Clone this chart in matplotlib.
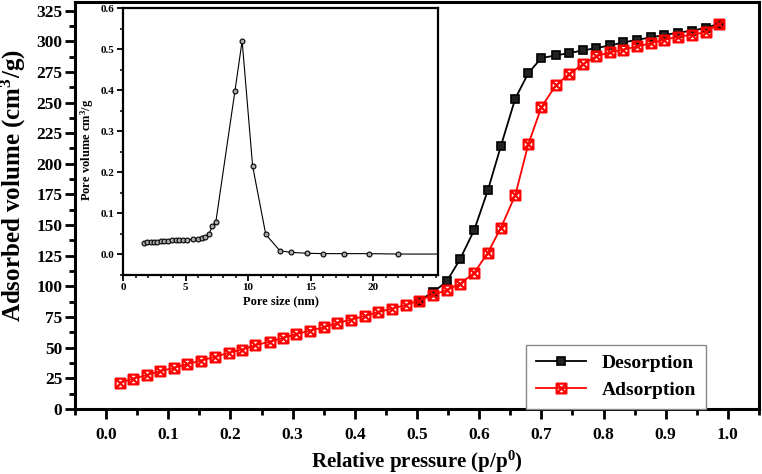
import matplotlib
matplotlib.use('Agg')
import matplotlib.pyplot as plt
from matplotlib.path import Path
import numpy as np

plt.rcParams['font.family'] = ['Liberation Serif', 'DejaVu Serif']
plt.rcParams['font.weight'] = 'bold'
plt.rcParams['mathtext.fontset'] = 'custom'
plt.rcParams['mathtext.rm'] = 'Liberation Serif:bold'
plt.rcParams['mathtext.bf'] = 'Liberation Serif:bold'
plt.rcParams['mathtext.it'] = 'Liberation Serif:bold'
plt.rcParams['mathtext.default'] = 'bf'

# adsorption branch (relative pressure, volume cm3/g)
ads_p = [0.022, 0.044, 0.065, 0.087, 0.109, 0.130, 0.153, 0.175, 0.197, 0.219,
         0.240, 0.263, 0.284, 0.306, 0.328, 0.350, 0.372, 0.394, 0.416, 0.438,
         0.460, 0.482, 0.503, 0.525, 0.548, 0.569, 0.592, 0.614, 0.635, 0.658,
         0.679, 0.700, 0.723, 0.745, 0.767, 0.788, 0.811, 0.832, 0.854, 0.876,
         0.898, 0.920, 0.942, 0.964, 0.986]
ads_v = [21.5, 24.8, 27.6, 30.8, 33.6, 36.6, 39.5, 42.6, 45.8, 48.5,
         52.1, 54.8, 57.9, 61.1, 63.9, 66.6, 70.2, 72.9, 75.9, 79.1,
         81.9, 84.9, 88.4, 92.8, 97.2, 102.0, 111.0, 127.5, 147.9, 174.4,
         215.9, 246.2, 263.9, 273.4, 281.3, 287.6, 291.2, 293.1, 295.8, 298.3,
         301.3, 303.5, 305.4, 307.3, 314.4]

# desorption branch
des_p = [0.503, 0.526, 0.548, 0.569, 0.592, 0.614, 0.635, 0.658, 0.679, 0.700,
         0.723, 0.745, 0.767, 0.788, 0.811, 0.832, 0.854, 0.876, 0.898, 0.920,
         0.942, 0.964, 0.986]
des_v = [88.4, 95.2, 104.2, 122.0, 146.0, 178.5, 214.7, 253.2, 274.0, 286.3,
         288.4, 290.4, 292.5, 294.4, 296.6, 299.0, 301.2, 303.1, 305.1, 307.0,
         308.6, 310.8, 314.4]

# pore size distribution (inset)
pore_d = [1.7, 1.95, 2.2, 2.45, 2.7, 3.0, 3.3, 3.6, 3.9, 4.2, 4.5, 4.8, 5.1,
          5.6, 6.0, 6.3, 6.55, 6.9, 7.15, 7.42, 8.95, 9.53, 10.37, 11.42,
          12.55, 13.47, 14.68, 16.03, 17.68, 19.71, 22.0, 26.0]
pore_v = [0.029, 0.030, 0.030, 0.031, 0.031, 0.032, 0.032, 0.033, 0.034,
          0.034, 0.035, 0.036, 0.036, 0.037, 0.038, 0.040, 0.043, 0.051,
          0.070, 0.078, 0.397, 0.520, 0.215, 0.049, 0.009, 0.005, 0.003,
          0.002, 0.002, 0.002, 0.001, 0.001]

# square with a cross inside
box_x = Path([(-1, -1), (1, -1), (1, 1), (-1, 1), (-1, -1), (1, 1), (-1, 1), (1, -1)],
             [Path.MOVETO, Path.LINETO, Path.LINETO, Path.LINETO, Path.LINETO,
              Path.LINETO, Path.MOVETO, Path.LINETO])

fig = plt.figure(figsize=(7.62, 4.74), dpi=100)
ax = fig.add_axes([75/762, 1-409/474, 684/762, 407/474])

ax.plot(des_p, des_v, color='black', lw=1.3, marker='s', ms=6,
        mfc='#222222', mec='black', mew=1.2, label='Desorption')
ax.plot(ads_p, ads_v, color='red', lw=1.3, marker=box_x, ms=7,
        mfc='none', mec='red', mew=1.6, label='Adsorption')

ax.set_xlim(-0.05, 1.05)
ax.set_ylim(0, 332)
ax.set_xticks(np.arange(0, 1.01, 0.1))
ax.set_xticks(np.arange(-0.05, 1.06, 0.05), minor=True)
ax.set_yticks(np.arange(0, 326, 25))
ax.set_yticks(np.arange(0, 332, 12.5), minor=True)
ax.xaxis.set_major_formatter(plt.FuncFormatter(lambda v, p: '{:.1f}'.format(v)))
ax.tick_params(which='major', direction='out', length=7, width=2, labelsize=12.5, pad=6)
ax.tick_params(which='minor', direction='out', length=4, width=2)
ax.tick_params(axis='y', pad=2)
for s in ax.spines.values():
    s.set_linewidth(2.2)
ax.set_xlabel('Relative pressure (p/p$^{0}$)', fontsize=15, fontweight='bold', labelpad=4)
ax.set_ylabel('Adsorbed volume (cm$^{3}$/g)', fontsize=18, fontweight='bold')
ax.yaxis.set_label_coords(-0.068, 0.55)

leg = ax.legend(loc='lower right', bbox_to_anchor=(0.9225, 0.0), fontsize=14,
                handlelength=2.6, fancybox=False, borderaxespad=0, framealpha=1,
                borderpad=0.5, labelspacing=0.5)
leg.get_frame().set_edgecolor('#888888')
leg.get_frame().set_linewidth(1.0)

# inset
ins = fig.add_axes([123/762, 1-275/474, 315/762, 267/474])
ins.plot(pore_d, pore_v, color='black', lw=0.8, marker='o', ms=3.5,
         mfc='#aaaaaa', mec='black', mew=0.8)
ins.set_xlim(0, 25.2)
ins.set_ylim(-0.045, 0.6)
ins.set_xticks([0, 5, 10, 15, 20])
ins.set_xticks(np.arange(0, 25.2, 1), minor=True)
ins.set_yticks(np.arange(0, 0.61, 0.1))
ins.set_yticks(np.arange(-0.05, 0.61, 0.05), minor=True)
ins.yaxis.set_major_formatter(plt.FuncFormatter(lambda v, p: '{:.1f}'.format(v)))
ins.tick_params(which='major', direction='out', length=4, width=1.3, labelsize=8, pad=2)
ins.tick_params(which='minor', direction='out', length=2.5, width=1.1)
for s in ins.spines.values():
    s.set_linewidth(1.6)
ins.set_xlabel('Pore size (nm)', fontsize=9, fontweight='bold', labelpad=2)
ins.set_ylabel('Pore volume cm$^{3}$/g', fontsize=9, fontweight='bold')
ins.yaxis.set_label_coords(-0.085, 0.47)

fig.savefig('out.png', dpi=100)
